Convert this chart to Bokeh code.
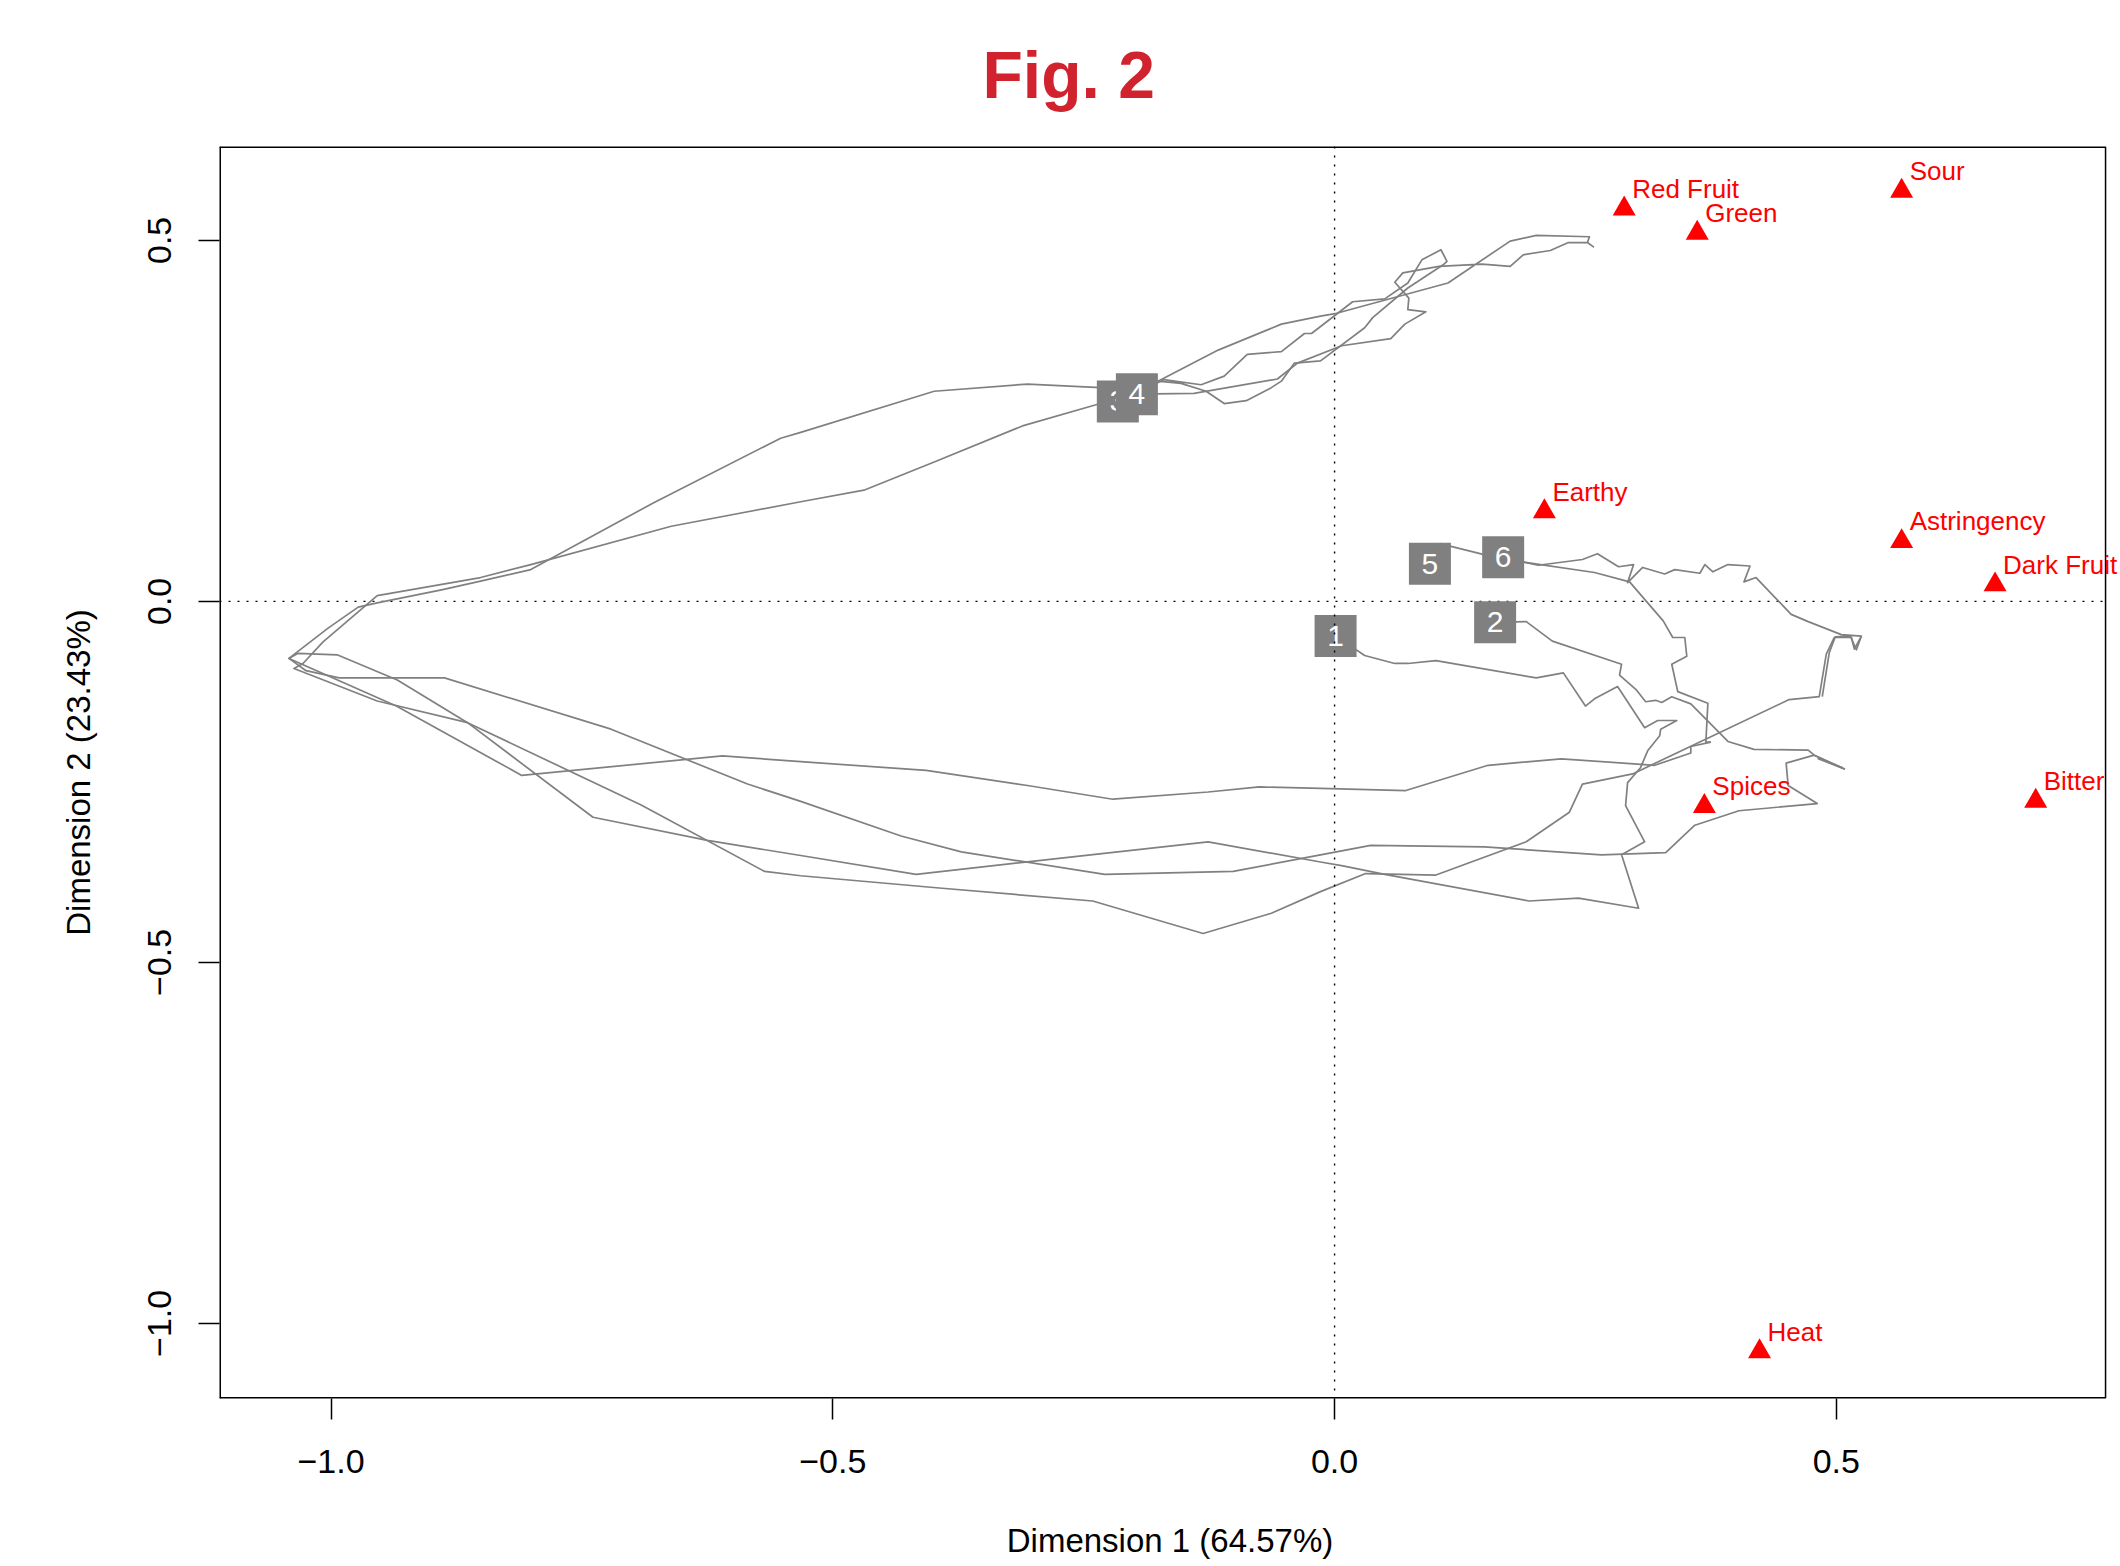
from bokeh.plotting import figure
from bokeh.models import Span, LabelSet, ColumnDataSource, FixedTicker, Range1d
from bokeh.core.properties import value
from bokeh.embed import file_html
from bokeh.resources import INLINE

# ---- trajectories (start point = labelled box) ----
traj_labels = ["1", "2", "3", "4", "5", "6"]

t1_x = [0.001, 0.030, 0.060, 0.073, 0.101, 0.201, 0.228, 0.250, 0.259, 0.282, 0.309, 0.322, 0.341, 0.325,
        0.324, 0.312, 0.305, 0.292, 0.290, 0.309, 0.286, 0.303, 0.243, 0.194, 0.050, 0.007, -0.014, -0.126,
        -0.417, -0.532, -0.625, -0.739, -0.864, -0.934, -0.994, -1.033, -1.042, -0.935, -0.810, -0.610,
        -0.532, -0.407, -0.306, -0.221, -0.126, -0.075, -0.014, 0.071, 0.153, 0.226, 0.319, 0.355, 0.355, 0.375]
t1_y = [-0.048, -0.075, -0.086, -0.086, -0.082, -0.106, -0.099, -0.145, -0.135, -0.118, -0.175, -0.165, -0.165, -0.177,
        -0.186, -0.207, -0.230, -0.251, -0.283, -0.333, -0.351, -0.425, -0.411, -0.415, -0.378, -0.366, -0.361, -0.333,
        -0.378, -0.352, -0.331, -0.299, -0.168, -0.109, -0.074, -0.072, -0.079, -0.145, -0.241, -0.214,
        -0.222, -0.234, -0.255, -0.274, -0.264, -0.257, -0.259, -0.262, -0.227, -0.218, -0.227, -0.210, -0.201, -0.195]

t2_x = [0.160, 0.191, 0.217, 0.286, 0.284, 0.301, 0.310, 0.320, 0.326, 0.336, 0.355, 0.392, 0.418, 0.472,
        0.478, 0.508, 0.482, 0.506]
t2_y = [-0.029, -0.028, -0.055, -0.087, -0.102, -0.123, -0.139, -0.137, -0.140, -0.132, -0.142, -0.194, -0.205, -0.206,
        -0.213, -0.232, -0.218, -0.230]

t3_x = [-0.216, -0.170, -0.133, -0.110, -0.087, -0.053, -0.030, -0.023, 0.018, 0.050, 0.073, 0.087, 0.106, 0.112,
        0.109, 0.073, 0.038, 0.030, -0.014, -0.040, -0.053, -0.063, -0.088, -0.110, -0.128, -0.153, -0.176,
        -0.216, -0.236, -0.311, -0.399, -0.469, -0.532, -0.661, -0.801, -0.851, -0.954, -1.008, -1.028, -1.037,
        -0.954, -0.864, -0.691, -0.568, -0.532, -0.394, -0.241, -0.131, -0.063, -0.014, 0.031, 0.101, 0.191,
        0.234, 0.247, 0.297, 0.453, 0.483, 0.490, 0.498, 0.515, 0.518, 0.525]
t3_y = [0.277, 0.307, 0.300, 0.312, 0.342, 0.346, 0.371, 0.371, 0.415, 0.419, 0.441, 0.473, 0.487, 0.471,
        0.467, 0.434, 0.393, 0.379, 0.333, 0.330, 0.305, 0.296, 0.278, 0.274, 0.291, 0.302, 0.305,
        0.277, 0.273, 0.243, 0.193, 0.154, 0.138, 0.104, 0.051, 0.033, 0.008, -0.056, -0.086, -0.093,
        -0.138, -0.168, -0.282, -0.374, -0.380, -0.397, -0.415, -0.460, -0.432, -0.402, -0.377, -0.379, -0.333,
        -0.292, -0.253, -0.239, -0.136, -0.132, -0.073, -0.050, -0.050, -0.066, -0.048]

t4_x = [-0.197, -0.176, -0.116, -0.053, -0.014, 0.002, 0.113, 0.175, 0.201, 0.254, 0.252, 0.258, 0.252, 0.233,
        0.215, 0.188, 0.175, 0.147, 0.104, 0.068, 0.060, 0.074, 0.073, 0.091, 0.070, 0.056, 0.007, -0.037,
        -0.057, -0.140, -0.197, -0.233, -0.306, -0.399, -0.532, -0.552, -0.678, -0.801, -0.851, -0.890, -0.954,
        -0.973, -1.003, -1.042, -1.025, -0.992, -0.887, -0.721, -0.585, -0.532, -0.432, -0.372, -0.229, -0.101,
        -0.014, 0.036, 0.149, 0.266, 0.330, 0.359, 0.403, 0.481, 0.452, 0.450, 0.478, 0.508]
t4_y = [0.287, 0.305, 0.348, 0.384, 0.395, 0.399, 0.441, 0.499, 0.507, 0.505, 0.497, 0.491, 0.497, 0.497,
        0.486, 0.480, 0.464, 0.467, 0.464, 0.455, 0.442, 0.420, 0.404, 0.401, 0.384, 0.364, 0.354, 0.330,
        0.308, 0.288, 0.287, 0.296, 0.301, 0.291, 0.234, 0.226, 0.137, 0.044, 0.028, 0.016, -0.002,
        -0.008, -0.037, -0.079, -0.096, -0.106, -0.106, -0.177, -0.253, -0.277, -0.325, -0.347, -0.378, -0.374,
        -0.351, -0.338, -0.340, -0.351, -0.348, -0.310, -0.290, -0.280, -0.255, -0.224, -0.213, -0.232]

t5_x = [0.095, 0.105, 0.148, 0.190, 0.259, 0.294, 0.3275, 0.337, 0.349, 0.351, 0.336, 0.342, 0.372, 0.370, 0.375]
t5_y = [0.052, 0.080, 0.065, 0.054, 0.040, 0.027, -0.027, -0.050, -0.050, -0.076, -0.087, -0.125, -0.141, -0.195, -0.195]

t6_x = [0.168, 0.190, 0.203, 0.247, 0.262, 0.283, 0.298, 0.292, 0.307, 0.329, 0.339, 0.364, 0.369, 0.377,
        0.392, 0.414, 0.408, 0.420, 0.455, 0.472, 0.505, 0.525, 0.520, 0.514, 0.499, 0.493, 0.486]
t6_y = [0.061, 0.054, 0.050, 0.058, 0.066, 0.048, 0.051, 0.026, 0.047, 0.038, 0.044, 0.039, 0.051, 0.041,
        0.051, 0.049, 0.027, 0.033, -0.018, -0.028, -0.046, -0.048, -0.067, -0.048, -0.049, -0.071, -0.132]

traj_xs = [t1_x, t2_x, t3_x, t4_x, t5_x, t6_x]
traj_ys = [t1_y, t2_y, t3_y, t4_y, t5_y, t6_y]

# ---- supplementary attributes ----
sup_names = ["Red Fruit", "Green", "Sour", "Earthy", "Astringency", "Dark Fruit", "Spices", "Bitter", "Heat"]
sup_x = [0.2886, 0.3614, 0.5651, 0.2091, 0.5651, 0.6582, 0.3685, 0.6987, 0.4235]
sup_y = [0.5438, 0.5101, 0.5682, 0.1243, 0.0830, 0.0231, -0.2839, -0.2766, -1.0390]

# ---- axes ----
x_ticks = [-1.0, -0.5, 0.0, 0.5]
y_ticks = [-1.0, -0.5, 0.0, 0.5]
tick_text = {-1.0: "\u22121.0", -0.5: "\u22120.5", 0.0: "0.0", 0.5: "0.5"}

# plot-box limits (the drawing area extends a little past the right side of the box
# so that the "Dark Fruit" label can run over the box edge as in the original)
X_LO, X_BOX_HI, X_HI = -1.1112, 0.7683, 0.7832
Y_LO, Y_HI = -1.104, 0.630

FONT = "Liberation Sans"

p = figure(width=2120, height=1562,
           x_range=Range1d(X_LO, X_HI), y_range=Range1d(Y_LO, Y_HI),
           output_backend="svg", toolbar_location=None,
           min_border_left=219, min_border_right=0, min_border_top=145, min_border_bottom=164)
p.background_fill_color = "white"
p.border_fill_color = "white"
p.grid.visible = False
p.outline_line_color = None

p.title.text = "Fig. 2"
p.title.text_font = FONT
p.title.text_font_size = "66px"
p.title.text_font_style = "bold"
p.title.text_color = "#D0232E"
p.title.align = "left"
p.title.offset = 763
p.title.standoff = 70

p.xaxis.axis_label = "Dimension 1 (64.57%)"
p.yaxis.axis_label = "Dimension 2 (23.43%)"
p.xaxis.ticker = FixedTicker(ticks=x_ticks)
p.yaxis.ticker = FixedTicker(ticks=y_ticks)
for ax in (p.xaxis[0], p.yaxis[0]):
    ax.major_label_overrides = tick_text
    ax.axis_line_color = None
    ax.major_tick_out = 21
    ax.major_tick_in = 0
    ax.major_tick_line_width = 1.5
    ax.major_tick_line_color = "black"
    ax.minor_tick_line_color = None
    ax.major_label_text_font = FONT
    ax.major_label_text_font_size = "34px"
    ax.major_label_text_color = "black"
    ax.axis_label_text_font = FONT
    ax.axis_label_text_font_size = "33px"
    ax.axis_label_text_font_style = "normal"
    ax.axis_label_text_color = "black"
p.xaxis.major_label_standoff = 30
p.xaxis.axis_label_standoff = 46
p.yaxis.major_label_standoff = 27
p.yaxis.axis_label_standoff = 49
p.yaxis.major_label_orientation = "vertical"

# plot box: left, top, bottom lie on the drawing-area edge (half clipped -> doubled width)
p.segment(x0=[X_LO, X_LO, X_LO, X_BOX_HI], y0=[Y_LO, Y_HI, Y_LO, Y_LO],
          x1=[X_LO, X_BOX_HI, X_BOX_HI, X_BOX_HI], y1=[Y_HI, Y_HI, Y_LO, Y_HI],
          line_color="black", line_width=[3.0, 3.0, 3.0, 1.5])

# reference lines at 0
p.add_layout(Span(location=0, dimension="height", line_color="black", line_width=1.4, line_dash="2 7"))
p.segment(x0=[X_LO], y0=[0.0], x1=[X_BOX_HI], y1=[0.0], line_color="black", line_width=1.4, line_dash="2 7")

p.multi_line(xs=traj_xs, ys=traj_ys, line_color="#808080", line_width=1.7, line_join="round")

p.scatter(x=sup_x, y=sup_y, marker="triangle", size=23, fill_color="#FF0000", line_color=None)
sup_src = ColumnDataSource(data=dict(x=sup_x, y=sup_y, name=sup_names))
p.add_layout(LabelSet(x="x", y="y", text="name", source=sup_src, x_offset=8, y_offset=11,
                      text_font=value(FONT), text_font_size="26px", text_color="#FF0000",
                      text_align="left", text_baseline="alphabetic"))

for lab, xs, ys in zip(traj_labels, traj_xs, traj_ys):
    p.scatter(x=[xs[0]], y=[ys[0]], marker="square", size=42, fill_color="#808080", line_color=None)
    p.text(x=[xs[0]], y=[ys[0]], text=[lab], text_color="white", text_font=value(FONT),
           text_font_size="30px", text_align="center", text_baseline="middle")

open("out.html", "w").write(file_html(p, INLINE))
